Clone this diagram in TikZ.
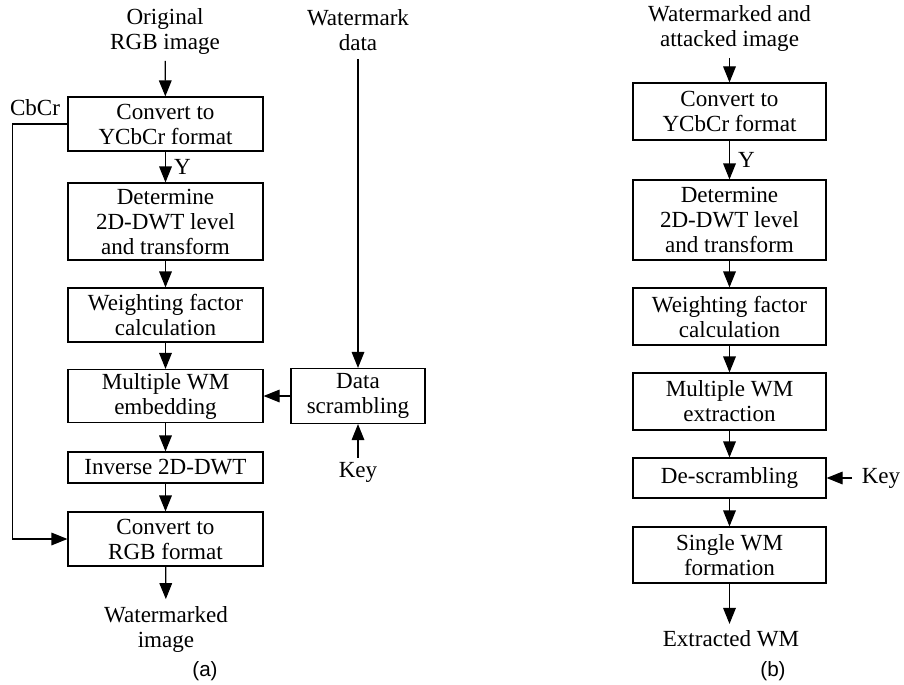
\documentclass[tikz,border=0pt]{standalone}
\usepackage{fontspec}
\setmainfont{Liberation Serif}
\setsansfont{Liberation Sans}
\usetikzlibrary{arrows.meta}
\begin{document}
\begin{tikzpicture}[x=0.75pt,y=-0.75pt,
  every node/.style={font=\fontsize{17.3pt}{18.75pt}\selectfont},
  bx/.style n args={2}{draw, line width=0.9pt, inner sep=0pt, minimum width=#1*0.75pt, minimum height=#2*0.75pt, align=center},
  lbl/.style={align=center, inner sep=0pt},
  arr/.style={-{Triangle[length=12pt,width=9.5pt]}, line width=0.9pt},
  subcap/.style={font=\sffamily\fontsize{15.5pt}{17pt}\selectfont, inner sep=0pt}]
\useasboundingbox (0,0) rectangle (904,685);
% ---- (a) embedding ----
\node[lbl] (orig) at (165,31) {Original\\RGB image};
\node[bx={195}{54}] (a1) at (165.5,124) {Convert to\\YCbCr format};
\node[bx={195}{77}] (a2) at (165.5,221.5) {Determine\\2D-DWT level\\and transform};
\node[bx={195}{54}] (a3) at (165.5,315) {Weighting factor\\calculation};
\node[bx={195}{53}] (a4) at (165.5,396) {Multiple WM\\embedding};
\node[bx={195}{31}] (a5) at (165.5,467.5) {Inverse 2D-DWT};
\node[bx={195}{54}] (a6) at (165.5,539) {Convert to\\RGB format};
\node[lbl] (wmi) at (166,629) {Watermarked\\image};
\node[lbl] (cbcr) at (35,108) {CbCr};
\node[lbl] (wmd) at (358,30) {Watermark\\data};
\node[bx={134}{55}] (ds) at (358,396) {Data\\scrambling};
\node[lbl] (key1) at (358,472) {Key};
\node[subcap] (capa) at (205,671) {(a)};
\draw[arr, shorten <=5pt] (orig) -- (a1);
\draw[arr] (a1) -- node[lbl, right=6pt] {Y} (a2);
\draw[arr] (a2) -- (a3);
\draw[arr] (a3) -- (a4);
\draw[arr] (a4) -- (a5);
\draw[arr] (a5) -- (a6);
\draw[arr, shorten >=5pt] (a6) -- (wmi);
\draw[arr] (a1.west) -- ++(-55,0) |- (a6.west);
\draw[arr, shorten <=6pt] (wmd) -- (ds);
\draw[arr] (ds) -- (a4);
\draw[arr, shorten <=3pt] (key1) -- (ds);
% ---- (b) extraction ----
\node[lbl] (att) at (729.5,28) {Watermarked and\\attacked image};
\node[bx={193}{57}] (b1) at (729.5,111.5) {Convert to\\YCbCr format};
\node[bx={193}{80}] (b2) at (729.5,220) {Determine\\2D-DWT level\\and transform};
\node[bx={193}{57}] (b3) at (729.5,316.5) {Weighting factor\\calculation};
\node[bx={193}{57}] (b4) at (729.5,401.5) {Multiple WM\\extraction};
\node[bx={193}{40}] (b5) at (729.5,478) {De-scrambling};
\node[bx={193}{56}] (b6) at (729.5,555) {Single WM\\formation};
\node[lbl] (ewm) at (731,639) {Extracted WM};
\node[lbl] (key2) at (881,478) {Key};
\node[subcap] (capb) at (773,671) {(b)};
\draw[arr, shorten <=5pt] (att) -- (b1);
\draw[arr] (b1) -- node[lbl, right=6pt] {Y} (b2);
\draw[arr] (b2) -- (b3);
\draw[arr] (b3) -- (b4);
\draw[arr] (b4) -- (b5);
\draw[arr] (b5) -- (b6);
\draw[arr, shorten >=5pt] (b6) -- (b6 |- ewm.north);
\draw[arr, shorten <=7pt] (key2) -- (b5);
\end{tikzpicture}
\end{document}
